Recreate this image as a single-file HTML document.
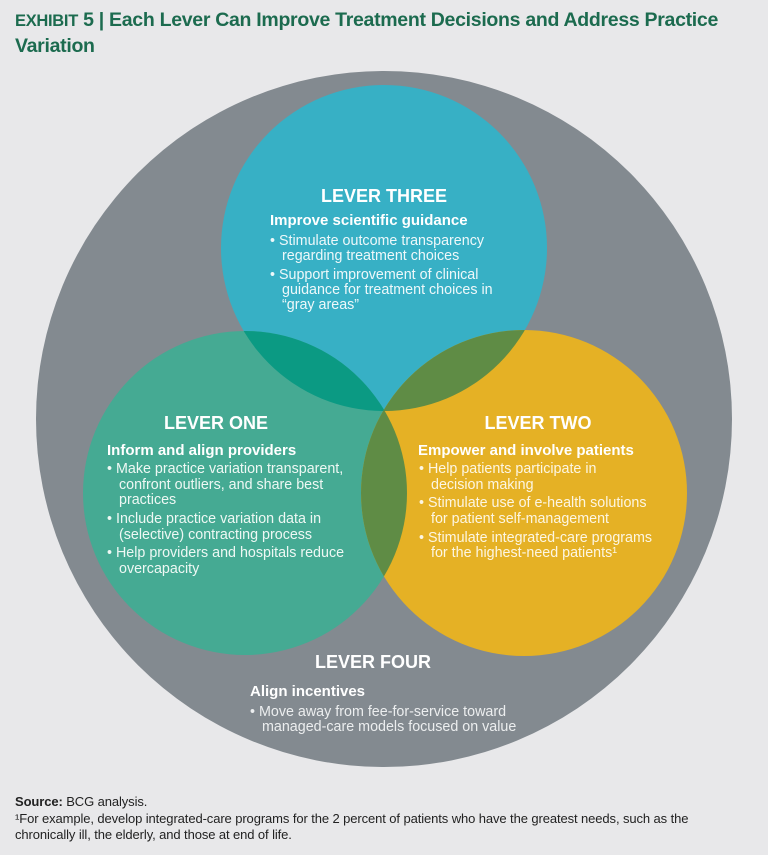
<!DOCTYPE html>
<html><head><meta charset="utf-8"><style>
html,body{margin:0;padding:0;background:#e8e8ea;}
body{width:768px;height:855px;overflow:hidden;position:relative;font-family:"Liberation Sans",sans-serif;}
.t{position:absolute;left:15px;top:8px;color:#1c6b4f;font-weight:bold;font-size:19.5px;line-height:25px;letter-spacing:-0.3px;}
.f{position:absolute;left:15px;top:794px;color:#222;font-size:13px;line-height:16.5px;letter-spacing:-0.1px;}
svg{position:absolute;left:0;top:0;}
</style></head><body>
<div class="t"><span style="font-size:16.5px">EXHIBIT</span> 5 | Each Lever Can Improve Treatment Decisions and Address Practice<br>Variation</div>
<svg width="768" height="855" viewBox="0 0 768 855" font-family="Liberation Sans, sans-serif">
<defs>
<clipPath id="c3"><circle cx="384" cy="248" r="163"/></clipPath>
<clipPath id="c1"><circle cx="245" cy="493" r="162"/></clipPath>
</defs>
<circle cx="384" cy="419" r="348" fill="#838a90"/>
<circle cx="384" cy="248" r="163" fill="#37b0c5"/>
<circle cx="245" cy="493" r="162" fill="#45aa93"/>
<circle cx="524" cy="493" r="163" fill="#e5b125"/>
<circle cx="245" cy="493" r="162" fill="#0b9a83" clip-path="url(#c3)"/>
<circle cx="524" cy="493" r="163" fill="#5f8c45" clip-path="url(#c3)"/>
<circle cx="524" cy="493" r="163" fill="#5f8c45" clip-path="url(#c1)"/>
<g fill="#fff">
<text x="384" y="202" text-anchor="middle" font-size="18" font-weight="bold">LEVER THREE</text>
<text x="270" y="225" font-size="15" font-weight="bold">Improve scientific guidance</text>
<g font-size="14.3" fill="#eef8fa">
<text x="270" y="245">• Stimulate outcome transparency</text>
<text x="282" y="260">regarding treatment choices</text>
<text x="270" y="279">• Support improvement of clinical</text>
<text x="282" y="294">guidance for treatment choices in</text>
<text x="282" y="309">“gray areas”</text>
</g>
<text x="216" y="429" text-anchor="middle" font-size="18" font-weight="bold">LEVER ONE</text>
<text x="107" y="455" font-size="15" font-weight="bold">Inform and align providers</text>
<g font-size="14.3" fill="#eef8f4">
<text x="107" y="473">• Make practice variation transparent,</text>
<text x="119" y="489">confront outliers, and share best</text>
<text x="119" y="504">practices</text>
<text x="107" y="523">• Include practice variation data in</text>
<text x="119" y="539">(selective) contracting process</text>
<text x="107" y="557">• Help providers and hospitals reduce</text>
<text x="119" y="573">overcapacity</text>
</g>
<text x="538" y="429" text-anchor="middle" font-size="18" font-weight="bold">LEVER TWO</text>
<text x="418" y="455" font-size="15" font-weight="bold">Empower and involve patients</text>
<g font-size="14.3" fill="#fdf6e2">
<text x="419" y="473">• Help patients participate in</text>
<text x="431" y="489">decision making</text>
<text x="419" y="507">• Stimulate use of e-health solutions</text>
<text x="431" y="523">for patient self-management</text>
<text x="419" y="542">• Stimulate integrated-care programs</text>
<text x="431" y="557">for the highest-need patients¹</text>
</g>
<text x="373" y="668" text-anchor="middle" font-size="18" font-weight="bold">LEVER FOUR</text>
<text x="250" y="696" font-size="15" font-weight="bold">Align incentives</text>
<g font-size="14.3" fill="#eceeef">
<text x="250" y="716">• Move away from fee-for-service toward</text>
<text x="262" y="731">managed-care models focused on value</text>
</g>
</g>
</svg>
<div class="f"><b>Source:</b> BCG analysis.<br>¹For example, develop integrated-care programs for the 2 percent of patients who have the greatest needs, such as the<br>chronically ill, the elderly, and those at end of life.</div>
</body></html>
